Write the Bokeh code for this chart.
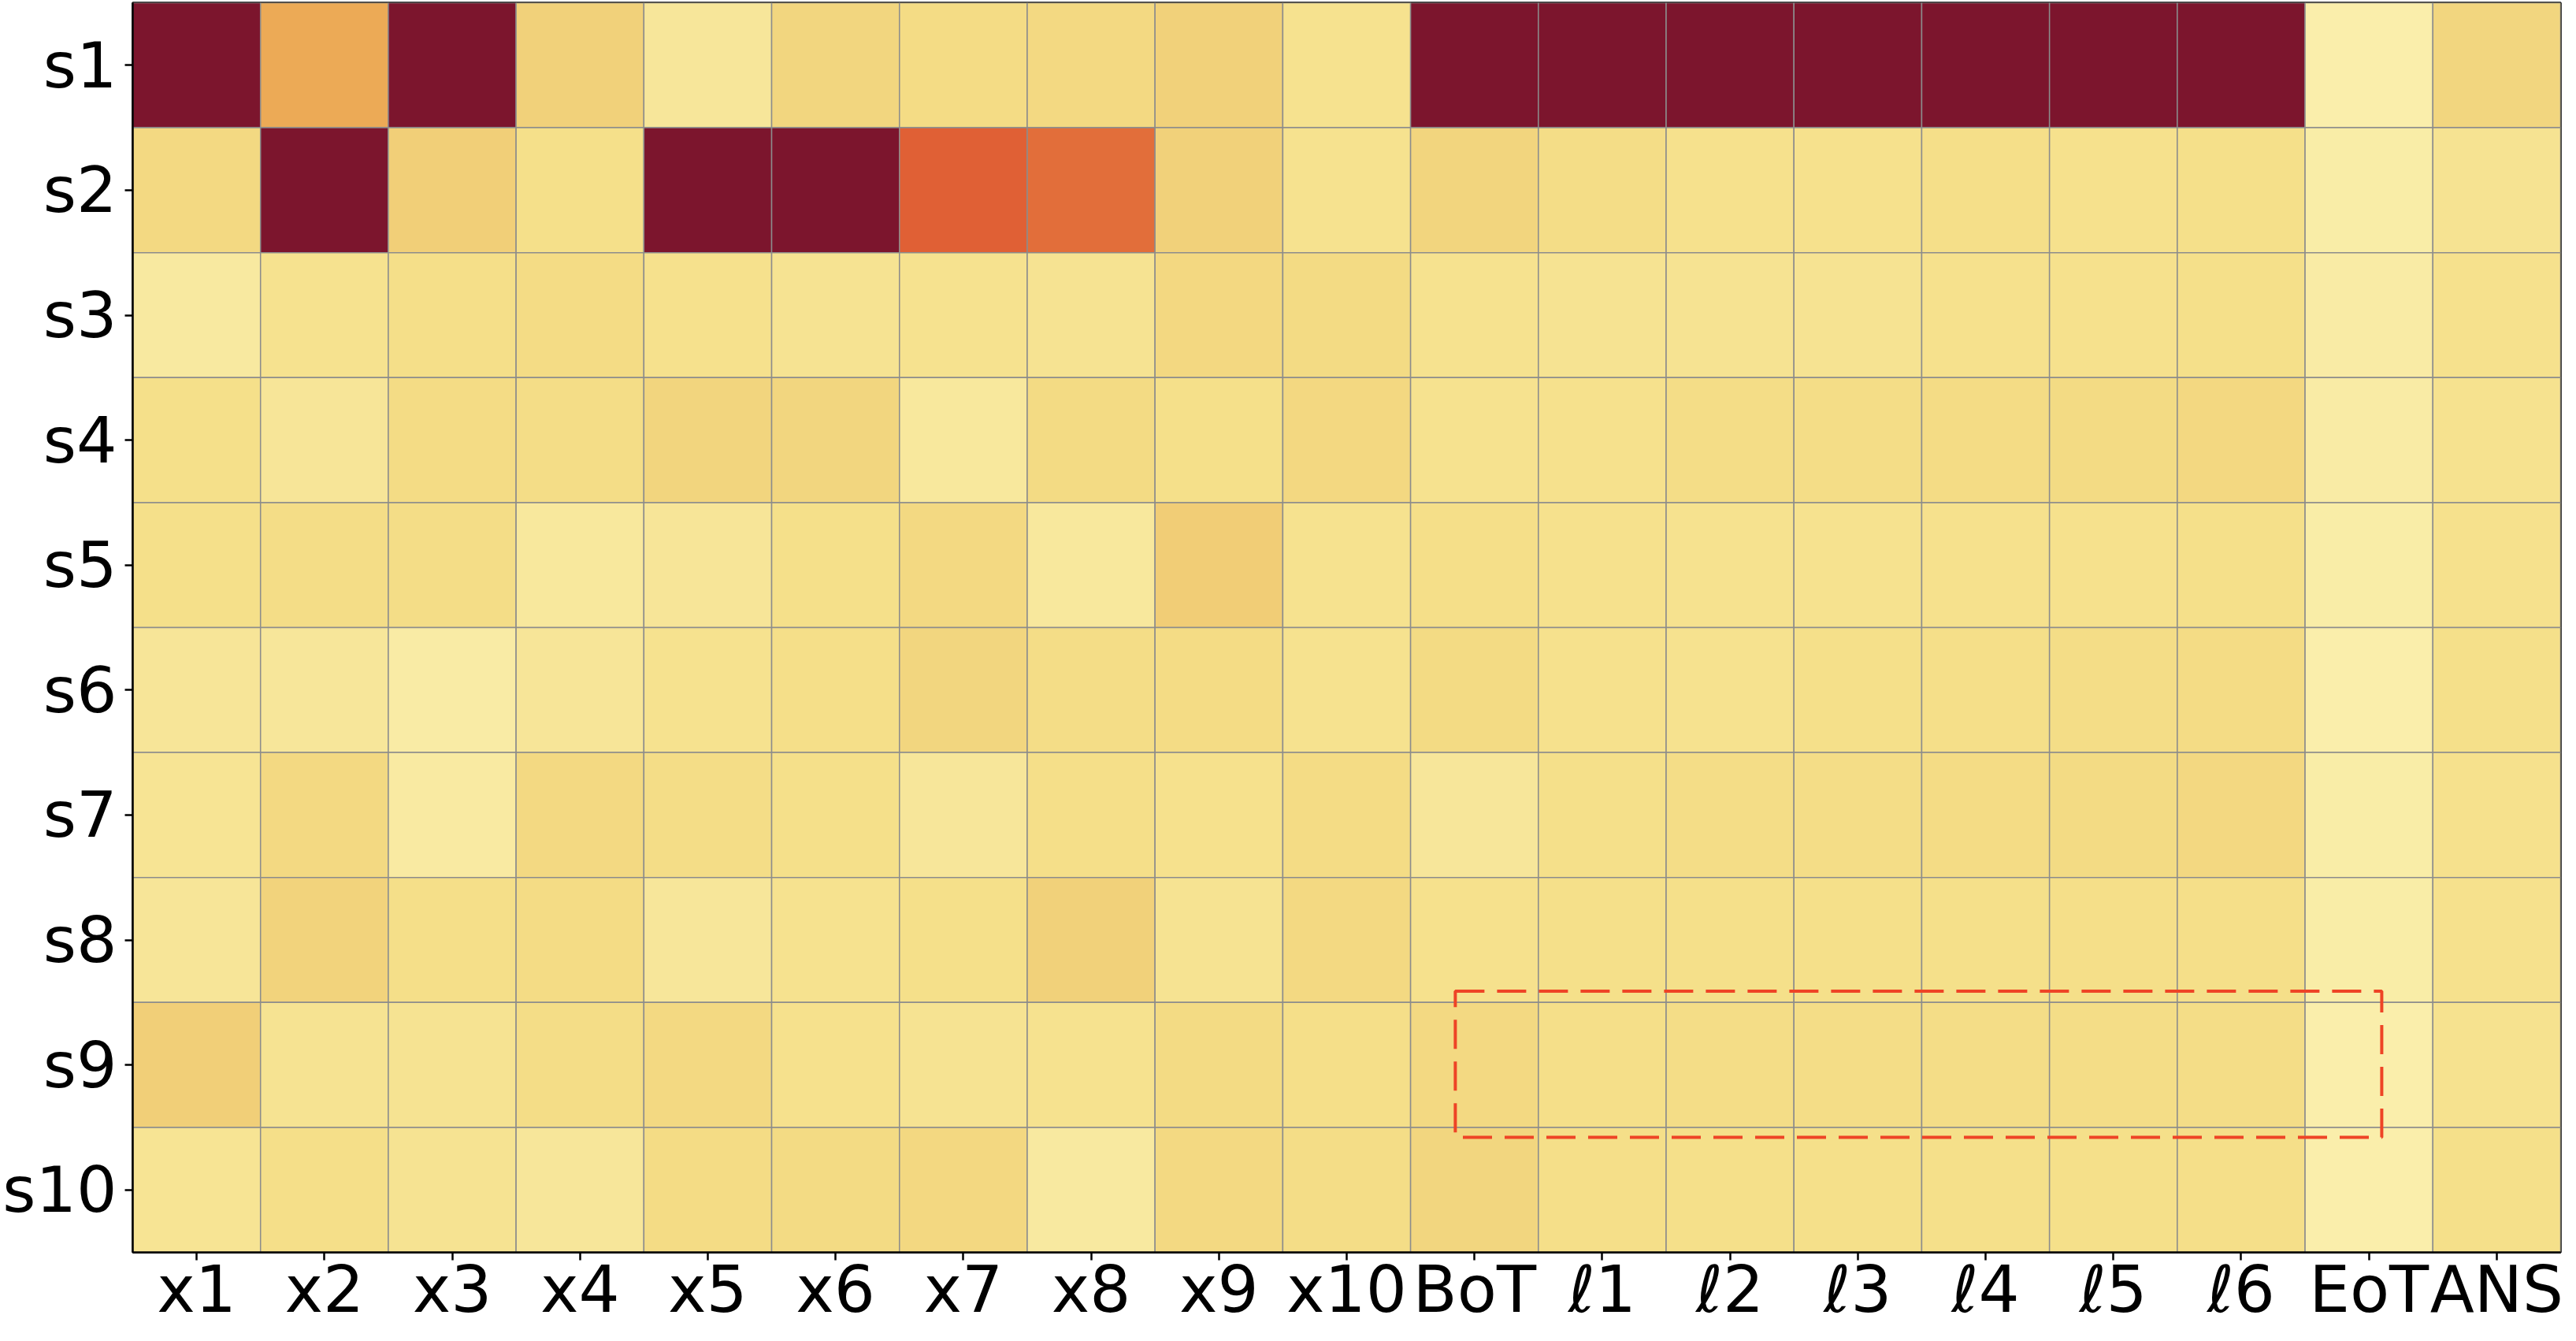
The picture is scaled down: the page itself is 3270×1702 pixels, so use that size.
import numpy as np
from bokeh.plotting import figure
from bokeh.models import LinearColorMapper, ColumnDataSource, FactorRange
from bokeh.transform import transform
from bokeh.embed import file_html
from bokeh.resources import INLINE

rows = ["s1", "s2", "s3", "s4", "s5", "s6", "s7", "s8", "s9", "s10"]
cols = ["x1", "x2", "x3", "x4", "x5", "x6", "x7", "x8", "x9", "x10",
        "BoT", "ℓ1", "ℓ2", "ℓ3", "ℓ4", "ℓ5", "ℓ6", "EoT", "ANS"]

# one list per row, in column order
s1 = [1.00, 0.45, 1.00, 0.26, 0.09, 0.22, 0.18, 0.20, 0.26, 0.13, 1.00, 1.00, 1.00, 1.00, 1.00, 1.00, 1.00, 0.03, 0.22]
s2 = [0.20, 1.00, 0.27, 0.15, 1.00, 1.00, 0.65, 0.60, 0.26, 0.13, 0.23, 0.17, 0.14, 0.14, 0.16, 0.14, 0.15, 0.04, 0.12]
s3 = [0.07, 0.13, 0.16, 0.18, 0.14, 0.12, 0.13, 0.12, 0.21, 0.19, 0.13, 0.12, 0.12, 0.12, 0.14, 0.14, 0.15, 0.05, 0.14]
s4 = [0.15, 0.10, 0.18, 0.17, 0.23, 0.22, 0.08, 0.19, 0.15, 0.21, 0.13, 0.14, 0.17, 0.17, 0.18, 0.19, 0.21, 0.05, 0.13]
s5 = [0.15, 0.17, 0.17, 0.08, 0.10, 0.15, 0.20, 0.08, 0.28, 0.13, 0.16, 0.14, 0.13, 0.13, 0.14, 0.14, 0.15, 0.04, 0.14]
s6 = [0.10, 0.09, 0.05, 0.10, 0.13, 0.16, 0.22, 0.17, 0.18, 0.13, 0.19, 0.14, 0.13, 0.15, 0.16, 0.17, 0.18, 0.03, 0.15]
s7 = [0.11, 0.20, 0.06, 0.20, 0.17, 0.15, 0.09, 0.16, 0.14, 0.18, 0.09, 0.15, 0.17, 0.17, 0.18, 0.19, 0.21, 0.04, 0.14]
s8 = [0.10, 0.24, 0.16, 0.18, 0.09, 0.13, 0.15, 0.26, 0.12, 0.20, 0.14, 0.15, 0.15, 0.15, 0.15, 0.16, 0.16, 0.04, 0.14]
s9 = [0.27, 0.12, 0.12, 0.17, 0.20, 0.14, 0.12, 0.13, 0.19, 0.16, 0.20, 0.16, 0.17, 0.17, 0.17, 0.17, 0.17, 0.03, 0.13]
s10 = [0.11, 0.16, 0.12, 0.09, 0.18, 0.19, 0.21, 0.07, 0.20, 0.17, 0.22, 0.16, 0.15, 0.15, 0.15, 0.15, 0.16, 0.03, 0.15]
matrix = [s1, s2, s3, s4, s5, s6, s7, s8, s9, s10]

# highlighted block (row, first col, last col)
highlight_row = "s9"
highlight_from = "BoT"
highlight_to = "EoT"

# colour map anchors
anchor_pos = [0.00, 0.05, 0.10, 0.15, 0.20, 0.27, 0.45, 0.60, 0.65, 0.80, 1.00]
anchor_col = ["#FBF2B4", "#F9EBA4", "#F7E597", "#F5E08A", "#F3D982", "#F1CF78",
              "#ECAA56", "#E26E3A", "#E06035", "#B0302F", "#7C152D"]


def hex2rgb(h):
    return [int(h[i:i + 2], 16) for i in (1, 3, 5)]


anc = np.array([hex2rgb(c) for c in anchor_col], dtype=float)
grid = np.linspace(0, 1, 256)
palette = []
for t in grid:
    r = np.interp(t, anchor_pos, anc[:, 0])
    g = np.interp(t, anchor_pos, anc[:, 1])
    b = np.interp(t, anchor_pos, anc[:, 2])
    palette.append("#%02x%02x%02x" % (int(round(r)), int(round(g)), int(round(b))))

mapper = LinearColorMapper(palette=palette, low=0.0, high=1.0)

xs, ys, vs = [], [], []
for rname, rvals in zip(rows, matrix):
    for cname, v in zip(cols, rvals):
        xs.append(cname)
        ys.append(rname)
        vs.append(v)
src = ColumnDataSource(dict(x=xs, y=ys, v=vs))

yfactors = rows[::-1]
p = figure(width=3254, height=1686,
           x_range=FactorRange(factors=cols, range_padding=0),
           y_range=FactorRange(factors=yfactors, range_padding=0),
           output_backend="svg", toolbar_location=None,
           min_border_left=164, min_border_right=4,
           min_border_top=3, min_border_bottom=80)

p.rect(x="x", y="y", width=1, height=1, source=src,
       fill_color=transform("v", mapper), line_color="#8c8c8c", line_width=1.5)

# dashed highlight box around the s9 row from BoT to EoT
ri = yfactors.index(highlight_row)
c0 = cols.index(highlight_from)
c1 = cols.index(highlight_to)
p.quad(left=[c0 + 0.35], right=[c1 + 0.6], bottom=[ri - 0.08], top=[ri + 1.09],
       fill_alpha=0, line_color="#EE4426", line_width=4, line_dash="37 16")

p.grid.visible = False
p.outline_line_color = "black"
p.outline_line_width = 2.5
p.outline_line_alpha = 1.0

for ax in (p.xaxis, p.yaxis):
    ax.major_label_text_font = "DejaVu Sans"
    ax.major_label_text_color = "black"
    ax.axis_line_color = "black"
    ax.axis_line_width = 2.5
    ax.major_tick_line_color = "black"
    ax.major_tick_line_width = 2.5
    ax.major_tick_out = 10
    ax.major_tick_in = 0
    ax.minor_tick_line_color = None
p.xaxis.major_label_text_font_size = "82px"
p.yaxis.major_label_text_font_size = "81px"
p.xaxis.major_label_standoff = -11
p.yaxis.major_label_standoff = 10

open("out.html", "w").write(file_html(p, INLINE))
